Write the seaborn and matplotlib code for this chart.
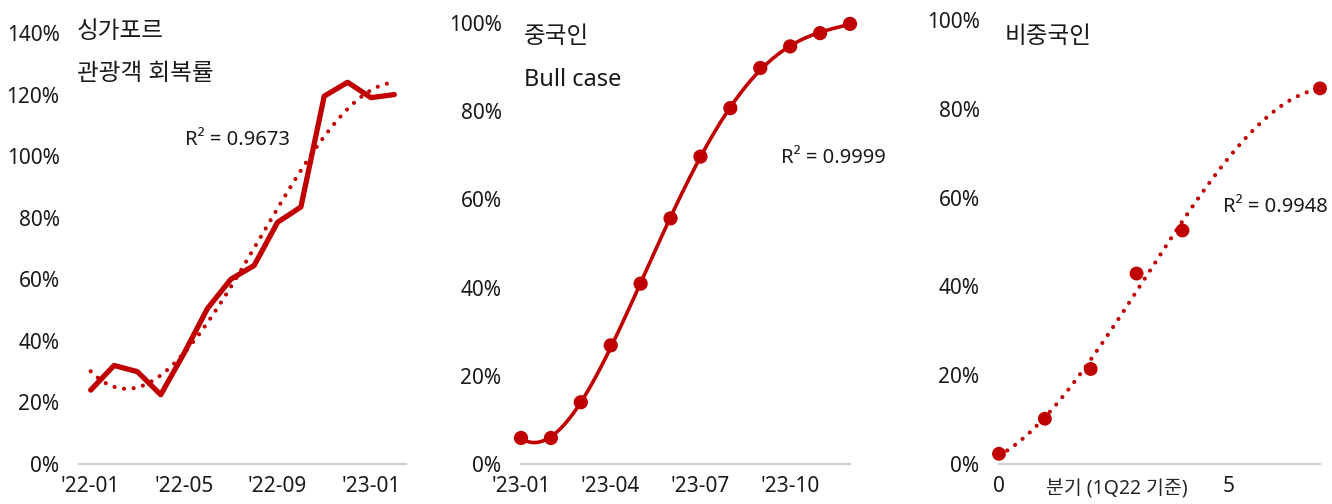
import numpy as np
import pandas as pd
import matplotlib
matplotlib.use("Agg")
import matplotlib.pyplot as plt
import seaborn as sns

# Singapore visitor recovery rate (vs. pre-COVID), monthly
sg_months = ["2022-01", "2022-02", "2022-03", "2022-04", "2022-05", "2022-06", "2022-07",
             "2022-08", "2022-09", "2022-10", "2022-11", "2022-12", "2023-01", "2023-02"]
sg_recovery = [0.24, 0.32, 0.30, 0.225, 0.36, 0.505, 0.60, 0.645, 0.785, 0.835, 1.195, 1.24, 1.19, 1.20]
sg_tick_pos = [0, 4, 8, 12]
sg_tick_labels = ["'22-01", "'22-05", "'22-09", "'23-01"]

# Chinese visitors, bull case, monthly 2023
cn_months = ["2023-01", "2023-02", "2023-03", "2023-04", "2023-05", "2023-06",
             "2023-07", "2023-08", "2023-09", "2023-10", "2023-11", "2023-12"]
cn_recovery = [0.059, 0.059, 0.14, 0.269, 0.409, 0.557, 0.697, 0.807, 0.898, 0.947, 0.977, 0.998]
cn_tick_pos = [0, 3, 6, 9]
cn_tick_labels = ["'23-01", "'23-04", "'23-07", "'23-10"]

# Non-Chinese visitors, by quarter since 1Q22
nc_quarter = [0, 1, 2, 3, 4, 7]
nc_recovery = [0.023, 0.102, 0.214, 0.429, 0.526, 0.846]

r2_labels = ["R\u00b2 = 0.9673", "R\u00b2 = 0.9999", "R\u00b2 = 0.9948"]

RED = "#C00000"
GRID = "#D0D0D0"
W, H = 1332, 504
TICK_FS = 15
TITLE_FS = 17
NOTE_FS = 14.5

sns.set_theme(style="white")
plt.rcParams["font.family"] = ["Noto Sans", "Noto Sans CJK KR", "DejaVu Sans"]
plt.rcParams["text.color"] = "#1a1a1a"
plt.rcParams["xtick.color"] = "#1a1a1a"
plt.rcParams["ytick.color"] = "#1a1a1a"

fig = plt.figure(figsize=(W / 100, H / 100), dpi=100)


def px_axes(x0, x1, ytop, ybot):
    return fig.add_axes([x0 / W, 1 - ybot / H, (x1 - x0) / W, (ybot - ytop) / H])


def style(ax, yticks):
    for s in ["top", "right", "left"]:
        ax.spines[s].set_visible(False)
    ax.spines["bottom"].set_color(GRID)
    ax.spines["bottom"].set_linewidth(1.6)
    ax.set_yticks(yticks)
    ax.set_yticklabels([f"{int(round(v * 100))}%" for v in yticks])
    ax.tick_params(axis="both", length=0, labelsize=TICK_FS)
    ax.tick_params(axis="y", pad=14)
    ax.tick_params(axis="x", pad=9)
    ax.grid(False)
    ax.set_ylabel("")
    ax.set_xlabel("")


def ftext(x, y, s, size=NOTE_FS):
    fig.text(x / W, 1 - y / H, s, fontsize=size, ha="left", va="center")


dot_style = dict(linestyle=(0, (0.01, 2.3)), dash_capstyle="round")

# ---- Panel 1: Singapore ----
ax1 = px_axes(79, 406, 33, 464)
sg = pd.DataFrame({"x": np.arange(len(sg_months)), "y": sg_recovery})
coef = np.polyfit(sg["x"], sg["y"], 3)
xs = np.linspace(0, len(sg_months) - 1, 200)
sns.lineplot(x=xs, y=np.polyval(coef, xs), ax=ax1, color=RED, lw=3.0, **dot_style)
sns.lineplot(data=sg, x="x", y="y", ax=ax1, color=RED, lw=3.8,
             solid_joinstyle="round", solid_capstyle="round")
ax1.set_xlim(-0.5, 13.5)
ax1.set_ylim(0, 1.4)
style(ax1, np.arange(0, 1.41, 0.2))
ax1.set_xticks(sg_tick_pos)
ax1.set_xticklabels(sg_tick_labels)
ftext(77, 32, "싱가포르", TITLE_FS)
ftext(77, 74, "관광객 회복률", TITLE_FS)
ftext(185, 140, r2_labels[0])

# ---- Panel 2: Chinese, bull case ----
ax2 = px_axes(521, 850, 23, 464)
cn = pd.DataFrame({"x": np.arange(len(cn_months)), "y": cn_recovery})
coef = np.polyfit(cn["x"], cn["y"], 5)
xs = np.linspace(0, len(cn_months) - 1, 300)
sns.lineplot(x=xs, y=np.polyval(coef, xs), ax=ax2, color=RED, lw=2.6)
sns.scatterplot(data=cn, x="x", y="y", ax=ax2, color=RED, s=105, edgecolor="none",
                clip_on=False, zorder=5)
ax2.set_xlim(0, 11)
ax2.set_ylim(0, 1.0)
style(ax2, np.arange(0, 1.01, 0.2))
ax2.set_xticks(cn_tick_pos)
ax2.set_xticklabels(cn_tick_labels)
ftext(524, 37, "중국인", TITLE_FS)
ftext(524, 80, "Bull case", TITLE_FS)
ftext(781, 158, r2_labels[1])

# ---- Panel 3: Non-Chinese ----
ax3 = px_axes(999, 1320, 20, 464)
nc = pd.DataFrame({"x": nc_quarter, "y": nc_recovery})
coef = np.polyfit(nc["x"], nc["y"], 3)
xs = np.linspace(0, 7, 300)
sns.lineplot(x=xs, y=np.polyval(coef, xs), ax=ax3, color=RED, lw=3.0, **dot_style)
sns.scatterplot(data=nc, x="x", y="y", ax=ax3, color=RED, s=100, edgecolor="none",
                clip_on=False, zorder=5)
ax3.set_xlim(0, 7)
ax3.set_ylim(0, 1.0)
style(ax3, np.arange(0, 1.01, 0.2))
ax3.set_xticks([0, 5])
ax3.set_xticklabels(["0", "5"])
ax3.set_xlabel("분기 (1Q22 기준)", fontsize=14)
ax3.xaxis.set_label_coords(0.367, -0.036)
ax3.xaxis.label.set_va("top")
ftext(1005, 37, "비중국인", TITLE_FS)
ftext(1223, 207, r2_labels[2])

fig.savefig("out.png", dpi=100)
